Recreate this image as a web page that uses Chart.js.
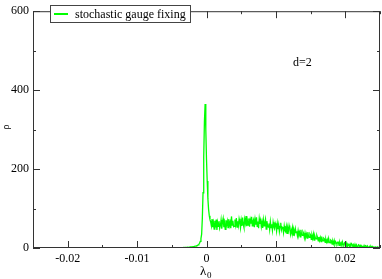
<!DOCTYPE html>
<html lang="en">
<head>
  <meta charset="UTF-8" />
  <title>stochastic gauge fixing, d=2</title>
  <script src="https://cdn.jsdelivr.net/npm/chart.js"></script>
  <style>
    html, body { margin: 0; padding: 0; background: #fff; }
    #wrap { width: 382px; height: 279px; }
  </style>
</head>
<body>
  <div id="wrap"><canvas id="rhoChart" width="382" height="279"></canvas></div>

  <script>
    // leading flat part (sparse)
    const leftLambda = [-0.0100, -0.0080, -0.0060, -0.0050];
    const leftRho = [0, 0, 0.2, 0.4];

    // histogram bins: first bin centre and bin width
    const binStart = -0.0040;
    const binWidth = 0.0001;
    const binRho = [
      // -0.0040 .. -0.0011
      0.5, 0.6, 0.5, 0.8, 0.7, 1.0, 0.9, 1.2, 1.1, 1.4,
      1.3, 1.6, 1.5, 1.9, 1.8, 2.2, 2.1, 2.6, 2.5, 3.0,
      3.2, 3.6, 3.5, 4.2, 4.6, 5.0, 5.8, 6.5, 7.8, 9.5,
      // -0.0010 .. -0.0001 (peak)
      12, 17, 24, 35, 75, 140, 230, 320, 365, 300,
      // 0.0000 .. 0.0009
      225, 170, 125, 98, 82, 72, 66, 56, 73, 53,
      64, 48, 69, 52, 72, 46, 65, 55, 68, 50,
      57, 71, 49, 66, 75, 53, 63, 47, 70, 59,
      68, 52, 73, 57, 65, 50, 80, 58, 69, 54,
      55, 72, 59, 76, 53, 68, 57, 74, 65, 51,
      70, 56, 77, 60, 52, 73, 63, 81, 55, 69,
      58, 75, 54, 71, 62, 79, 56, 68, 73, 53,
      72, 59, 78, 55, 67, 50, 74, 61, 70, 54,
      66, 51, 71, 56, 64, 73, 48, 68, 57, 53,
      62, 47, 67, 52, 60, 45, 65, 54, 49, 63,
      // 0.0100 ..
      57, 43, 62, 48, 59, 42, 55, 64, 46, 53,
      52, 39, 56, 44, 41, 54, 37, 51, 43, 57,
      48, 35, 46, 38, 51, 33, 45, 37, 49, 39,
      42, 31, 44, 33, 40, 28, 46, 34, 32, 41,
      37, 26, 38, 28, 35, 25, 40, 29, 27, 36,
      33, 22, 32, 24, 35, 20, 31, 25, 23, 32,
      27, 18, 28, 19, 26, 16, 29, 20, 18, 25,
      23, 14, 22, 15, 21, 12, 24, 15, 13, 20,
      18, 10, 17, 11, 19, 9, 16, 13, 10, 15,
      15, 7, 14, 8, 13, 6, 15, 8, 7, 13,
      // 0.0200 ..
      11, 5, 12, 4, 10, 7, 4, 10, 5, 11,
      9, 3, 8, 2, 9, 3, 8, 3, 2, 8,
      7, 2, 6, 2, 5, 3, 2, 6, 1, 6,
      5, 1, 5, 2, 1, 4, 1, 4, 1, 4,
      3, 1, 2, 3, 1, 1, 3, 0, 2, 1, 1
    ];

    const xTicks = [-0.02, -0.01, 0, 0.01, 0.02];
    const xMinorTicks = [-0.025, -0.015, -0.005, 0.005, 0.015, 0.025];
    const yTicks = [0, 200, 400, 600];
    const yMinorTicks = [100, 300, 500];

    const seriesLabel = "stochastic gauge fixing";
    const lineColor = "#00ff00";
    const serif = "'Times New Roman', 'Liberation Serif', 'DejaVu Serif', serif";

    const points = leftLambda.map((x, i) => ({ x: x, y: leftRho[i] }));
    binRho.forEach((r, i) => {
      points.push({ x: +(binStart + i * binWidth).toFixed(4), y: r });
    });

    // frame, inward ticks, legend, labels
    const decor = {
      id: "decor",
      afterDraw(chart) {
        const ctx = chart.ctx;
        const a = chart.chartArea;
        const xs = chart.scales.x, ys = chart.scales.y;
        ctx.save();
        ctx.strokeStyle = "#333";
        ctx.lineWidth = 1;
        ctx.strokeRect(a.left + 0.5, a.top + 0.5, a.right - a.left - 1, a.bottom - a.top - 1);

        ctx.beginPath();
        const tickX = (vals, len) => vals.forEach(v => {
          const px = Math.round(xs.getPixelForValue(v)) + 0.5;
          ctx.moveTo(px, a.bottom); ctx.lineTo(px, a.bottom - len);
          ctx.moveTo(px, a.top); ctx.lineTo(px, a.top + len);
        });
        const tickY = (vals, len) => vals.forEach(v => {
          const py = Math.round(ys.getPixelForValue(v)) + 0.5;
          ctx.moveTo(a.left, py); ctx.lineTo(a.left + len, py);
          ctx.moveTo(a.right, py); ctx.lineTo(a.right - len, py);
        });
        tickX(xTicks, 7); tickX(xMinorTicks, 3);
        tickY(yTicks, 7); tickY(yMinorTicks, 3);
        ctx.stroke();

        // legend box
        ctx.fillStyle = "#fff";
        ctx.fillRect(50, 5, 141, 18);
        ctx.strokeStyle = "#444";
        ctx.strokeRect(50.5, 5.5, 140, 17);
        ctx.strokeStyle = lineColor;
        ctx.lineWidth = 2;
        ctx.beginPath(); ctx.moveTo(54, 14); ctx.lineTo(68, 14); ctx.stroke();
        ctx.fillStyle = "#000";
        ctx.font = "12px " + serif;
        ctx.textBaseline = "alphabetic";
        ctx.textAlign = "left";
        ctx.fillText(seriesLabel, 75, 18);

        // annotation
        ctx.fillText("d=2", 293, 66);

        // x title: lambda with subscript 0
        ctx.font = "13px " + serif;
        ctx.fillText("λ", 200, 275);
        ctx.font = "9px " + serif;
        ctx.fillText("0", 207, 278);

        // y title
        ctx.save();
        ctx.translate(9, 127);
        ctx.rotate(-Math.PI / 2);
        ctx.font = "10px " + serif;
        ctx.textAlign = "center";
        ctx.fillText("ρ", 0, 0);
        ctx.restore();
        ctx.restore();
      }
    };

    new Chart(document.getElementById("rhoChart"), {
      type: "line",
      data: {
        datasets: [{
          label: seriesLabel,
          data: points,
          borderColor: lineColor,
          borderWidth: 1.3,
          pointRadius: 0,
          tension: 0,
          fill: false
        }]
      },
      options: {
        responsive: false,
        animation: false,
        layout: { padding: { top: 5, right: 2, left: 0, bottom: 0 } },
        plugins: { legend: { display: false }, tooltip: { enabled: false } },
        scales: {
          x: {
            type: "linear",
            min: -0.025,
            max: 0.025,
            afterBuildTicks: s => { s.ticks = xTicks.map(v => ({ value: v })); },
            afterFit: s => { s.height = 31; },
            grid: { display: false, drawTicks: false },
            border: { display: false },
            ticks: {
              color: "#000",
              padding: 4,
              maxRotation: 0,
              autoSkip: false,
              font: { family: serif, size: 12 },
              callback: v => (v === 0 ? "0" : String(+v.toFixed(2)))
            }
          },
          y: {
            min: 0,
            max: 600,
            afterBuildTicks: s => { s.ticks = yTicks.map(v => ({ value: v })); },
            afterFit: s => { s.width = 33; },
            grid: { display: false, drawTicks: false },
            border: { display: false },
            ticks: {
              color: "#000",
              padding: 4,
              autoSkip: false,
              font: { family: serif, size: 12 }
            }
          }
        }
      },
      plugins: [decor]
    });
  </script>
</body>
</html>
